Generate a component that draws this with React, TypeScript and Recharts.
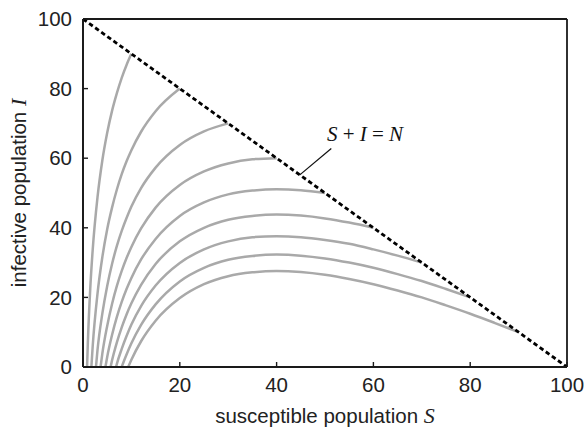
import React from 'react';
import { LineChart, Line, XAxis, YAxis, ReferenceLine, ReferenceDot } from 'recharts';

// axis ticks
const xTicks = [0, 20, 40, 60, 80, 100];
const yTicks = [0, 20, 40, 60, 80, 100];

// S + I = N boundary (N = 100)
const boundaryLine: [number, number][] = [[0, 100], [100, 0]];

// trajectories [S, I]
const traj10: [number, number][] = [[0.84, 0], [1, 6.9], [1.5, 22.6], [2, 33.6], [3, 48.8], [4, 59.4], [5, 67.3], [6, 73.6], [7, 78.7], [8, 83.1], [9, 86.8], [10, 90]];
const traj20: [number, number][] = [[1.73, 0], [2, 5.9], [3, 21.1], [4, 31.6], [5, 39.6], [6, 45.8], [7, 51.0], [8, 55.4], [9, 59.1], [10, 62.3], [12, 67.6], [15, 73.5], [20, 80]];
const traj30: [number, number][] = [[2.68, 0], [3, 4.9], [4, 15.4], [5, 23.3], [6, 29.6], [7, 34.8], [8, 39.1], [9, 42.8], [10, 46.1], [12, 51.4], [15, 57.3], [20, 63.8], [25, 67.7], [30, 70]];
const traj40: [number, number][] = [[3.63, 0], [4, 3.9], [5, 11.8], [6, 18.1], [7, 23.3], [8, 27.6], [9, 31.3], [10, 34.5], [12, 39.8], [15, 45.8], [20, 52.3], [25, 56.2], [30, 58.5], [35, 59.7], [40, 60]];
const traj50: [number, number][] = [[4.63, 0], [5, 2.9], [6, 9.2], [7, 14.4], [8, 18.7], [9, 22.4], [10, 25.6], [12, 30.9], [15, 36.8], [20, 43.4], [25, 47.3], [30, 49.6], [35, 50.7], [40, 51.1], [45, 50.8], [50, 50]];
const traj60: [number, number][] = [[5.7, 0], [6, 1.9], [7, 7.1], [8, 11.4], [9, 15.1], [10, 18.3], [12, 23.6], [15, 29.6], [20, 36.1], [25, 40.0], [30, 42.3], [35, 43.4], [40, 43.8], [45, 43.5], [50, 42.7], [55, 41.5], [60, 40]];
const traj70: [number, number][] = [[6.83, 0], [7, 0.9], [8, 5.2], [9, 8.9], [10, 12.2], [12, 17.5], [15, 23.4], [20, 29.9], [25, 33.8], [30, 36.1], [35, 37.3], [40, 37.6], [45, 37.3], [50, 36.5], [55, 35.4], [60, 33.8], [65, 32.0], [70, 30]];
const traj80: [number, number][] = [[7.98, 0], [9, 3.6], [10, 6.8], [12, 12.1], [15, 18.0], [20, 24.6], [25, 28.5], [30, 30.8], [35, 31.9], [40, 32.3], [45, 32.0], [50, 31.2], [55, 30.0], [60, 28.5], [65, 26.7], [70, 24.7], [75, 22.4], [80, 20]];
const traj90: [number, number][] = [[9.34, 0], [10, 2.1], [12, 7.4], [15, 13.3], [20, 19.8], [25, 23.8], [30, 26.1], [35, 27.2], [40, 27.6], [45, 27.3], [50, 26.5], [55, 25.3], [60, 23.8], [65, 22.0], [70, 20.0], [75, 17.7], [80, 15.3], [85, 12.7], [90, 10]];

const trajectories = [traj10, traj20, traj30, traj40, traj50, traj60, traj70, traj80, traj90];

// frame edges (domain limits)
const domainMin = 0;
const domainMax = 100;

// annotation
const annotationText = { a: 'S', op1: ' + ', b: 'I', op2: ' = ', c: 'N' };
const leaderFrom = { x: 44.8, y: 55.2 };
const leaderTo = { x: 51.3, y: 62.8 };
const annotationAnchor = { x: 50.4, y: 65.0 };

const toPoints = (arr: [number, number][]) => arr.map(([s, i]) => ({ s, i }));

const SANS = '"Liberation Sans", Arial, Helvetica, sans-serif';
const SERIF = '"Liberation Serif", "Times New Roman", serif';
const AXIS = '#1a1a1a';
const TEXT = '#222';
const CURVE = '#a9a9a9';

const XTitle = (props: any) => {
  const vb = props.viewBox || {};
  const cx = vb.x + vb.width / 2;
  return (
    <text x={cx} y={423} textAnchor="middle" fill={TEXT} fontFamily={SANS} fontSize={20.5} xmlSpace="preserve">
      <tspan>susceptible population </tspan>
      <tspan fontFamily={SERIF} fontStyle="italic" fontSize={22}>S</tspan>
    </text>
  );
};

const YTitle = (props: any) => {
  const vb = props.viewBox || {};
  const cy = vb.y + vb.height / 2;
  const x = 26;
  return (
    <text x={x} y={cy} textAnchor="middle" fill={TEXT} fontFamily={SANS} fontSize={20.5} xmlSpace="preserve" transform={`rotate(-90, ${x}, ${cy})`}>
      <tspan>infective population </tspan>
      <tspan fontFamily={SERIF} fontStyle="italic" fontSize={22}>I</tspan>
    </text>
  );
};

const AnnotationLabel = (props: any) => {
  const vb = props.viewBox || {};
  return (
    <text x={vb.x} y={vb.y} fill="#111" fontFamily={SERIF} fontSize={21} xmlSpace="preserve">
      <tspan fontStyle="italic">{annotationText.a}</tspan>
      <tspan>{annotationText.op1}</tspan>
      <tspan fontStyle="italic">{annotationText.b}</tspan>
      <tspan>{annotationText.op2}</tspan>
      <tspan fontStyle="italic">{annotationText.c}</tspan>
    </text>
  );
};

const tickStyle = { fill: TEXT, fontFamily: SANS, fontSize: 20.5 };
const axisLineStyle = { stroke: AXIS, strokeWidth: 1.8 };
const tickLineStyle = { stroke: AXIS, strokeWidth: 1.4 };

export default function App() {
  return (
    <div style={{ position: 'absolute', left: 0, top: 0, width: 585, height: 431, background: '#fff' }}>
      <LineChart width={585} height={431} margin={{ top: 19, right: 18, bottom: 34, left: 23 }}>
        <XAxis
          xAxisId="x"
          dataKey="s"
          type="number"
          domain={[domainMin, domainMax]}
          ticks={xTicks}
          allowDataOverflow
          tickSize={-5}
          tickMargin={15}
          height={30}
          axisLine={axisLineStyle}
          tick={tickStyle}
          tickLine={tickLineStyle}
          label={XTitle}
        />
        <XAxis
          xAxisId="top"
          orientation="top"
          dataKey="s"
          type="number"
          domain={[domainMin, domainMax]}
          ticks={xTicks}
          allowDataOverflow
          tickSize={-5}
          height={0}
          axisLine={axisLineStyle}
          tickFormatter={() => ''}
          tickLine={tickLineStyle}
        />
        <YAxis
          yAxisId="y"
          type="number"
          domain={[domainMin, domainMax]}
          ticks={yTicks}
          allowDataOverflow
          tickSize={-5}
          tickMargin={16}
          width={60}
          axisLine={axisLineStyle}
          tick={tickStyle}
          tickLine={tickLineStyle}
          label={YTitle}
        />
        <YAxis
          yAxisId="right"
          orientation="right"
          type="number"
          domain={[domainMin, domainMax]}
          ticks={yTicks}
          allowDataOverflow
          tickSize={-5}
          width={0}
          axisLine={axisLineStyle}
          tickFormatter={() => ''}
          tickLine={tickLineStyle}
        />
        <ReferenceLine xAxisId="x" yAxisId="y" x={domainMin} stroke={AXIS} strokeWidth={1.8} />
        <ReferenceLine xAxisId="x" yAxisId="y" x={domainMax} stroke={AXIS} strokeWidth={1.8} />
        <ReferenceLine xAxisId="x" yAxisId="y" y={domainMin} stroke={AXIS} strokeWidth={1.8} />
        <ReferenceLine xAxisId="x" yAxisId="y" y={domainMax} stroke={AXIS} strokeWidth={1.8} />
        {trajectories.map((traj, idx) => (
          <Line
            key={idx}
            xAxisId="x"
            yAxisId="y"
            data={toPoints(traj)}
            dataKey="i"
            type="monotone"
            stroke={CURVE}
            strokeWidth={2.5}
            dot={false}
            activeDot={false}
            isAnimationActive={false}
          />
        ))}
        <Line
          xAxisId="x"
          yAxisId="y"
          data={toPoints(boundaryLine)}
          dataKey="i"
          type="linear"
          stroke="#000"
          strokeWidth={2.8}
          strokeDasharray="4.5 3"
          dot={false}
          activeDot={false}
          isAnimationActive={false}
        />
        <Line
          xAxisId="top"
          yAxisId="right"
          data={toPoints(boundaryLine)}
          dataKey="i"
          type="linear"
          stroke="none"
          dot={false}
          activeDot={false}
          isAnimationActive={false}
        />
        <ReferenceLine
          xAxisId="x"
          yAxisId="y"
          segment={[leaderFrom, leaderTo]}
          stroke="#111"
          strokeWidth={1.2}
        />
        <ReferenceDot
          xAxisId="x"
          yAxisId="y"
          x={annotationAnchor.x}
          y={annotationAnchor.y}
          r={0}
          fill="none"
          stroke="none"
          label={AnnotationLabel}
        />
      </LineChart>
    </div>
  );
}
